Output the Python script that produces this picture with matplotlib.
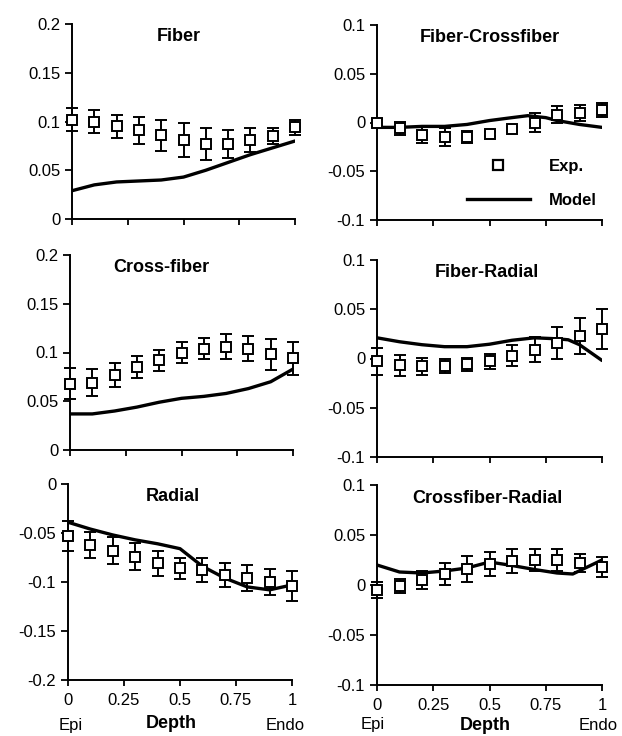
"""
Transmural strain profiles: experiment (squares, +/- SD) vs model (line),
six strain components plotted against normalised wall depth.
"""

import numpy as np
import matplotlib.pyplot as plt
from matplotlib.lines import Line2D
from matplotlib.ticker import FuncFormatter

# ── data ────────────────────────────────────────────────────────────────
depth = [0.0, 0.1, 0.2, 0.3, 0.4, 0.5, 0.6, 0.7, 0.8, 0.9, 1.0]

fiber_exp = [0.102, 0.100, 0.095, 0.091, 0.086, 0.081, 0.077, 0.077, 0.081, 0.085, 0.094]
fiber_err = [0.012, 0.012, 0.012, 0.014, 0.016, 0.017, 0.016, 0.014, 0.012, 0.008, 0.008]
fiber_mod_x = [0.0, 0.1, 0.2, 0.3, 0.4, 0.5, 0.6, 0.7, 0.8, 0.9, 1.0]
fiber_mod = [0.029, 0.035, 0.038, 0.039, 0.040, 0.043, 0.050, 0.058, 0.066, 0.073, 0.080]

fc_exp = [0.000, -0.006, -0.013, -0.015, -0.015, -0.012, -0.007, 0.000, 0.008, 0.010, 0.013]
fc_err = [0.004, 0.007, 0.008, 0.009, 0.006, 0.002, 0.002, 0.010, 0.009, 0.008, 0.007]
fc_mod_x = [0.0, 0.1, 0.2, 0.3, 0.4, 0.5, 0.6, 0.67, 0.75, 0.8, 0.9, 1.0]
fc_mod = [-0.005, -0.005, -0.004, -0.004, -0.002, 0.002, 0.005, 0.007, 0.005, 0.002, -0.002, -0.005]

cf_exp = [0.068, 0.069, 0.077, 0.085, 0.092, 0.100, 0.104, 0.106, 0.104, 0.098, 0.094]
cf_err = [0.016, 0.014, 0.012, 0.011, 0.011, 0.011, 0.011, 0.013, 0.013, 0.016, 0.017]
cf_mod_x = [0.0, 0.1, 0.2, 0.3, 0.4, 0.5, 0.6, 0.7, 0.8, 0.9, 1.0]
cf_mod = [0.037, 0.037, 0.040, 0.044, 0.049, 0.053, 0.055, 0.058, 0.063, 0.070, 0.083]

fr_exp = [-0.003, -0.007, -0.008, -0.008, -0.006, -0.003, 0.003, 0.009, 0.016, 0.023, 0.030]
fr_err = [0.014, 0.011, 0.009, 0.007, 0.007, 0.008, 0.011, 0.013, 0.016, 0.018, 0.020]
fr_mod_x = [0.0, 0.1, 0.2, 0.3, 0.4, 0.5, 0.6, 0.7, 0.8, 0.85, 0.9, 1.0]
fr_mod = [0.021, 0.017, 0.014, 0.012, 0.012, 0.0145, 0.0185, 0.021, 0.020, 0.019, 0.014, -0.002]

rad_exp = [-0.053, -0.062, -0.068, -0.074, -0.081, -0.086, -0.088, -0.093, -0.096, -0.100, -0.104]
rad_err = [0.015, 0.013, 0.014, 0.014, 0.013, 0.011, 0.012, 0.012, 0.013, 0.013, 0.015]
rad_mod_x = [0.0, 0.1, 0.2, 0.3, 0.4, 0.5, 0.55, 0.6, 0.7, 0.8, 0.9, 1.0]
rad_mod = [-0.039, -0.046, -0.052, -0.057, -0.061, -0.066, -0.075, -0.084, -0.096, -0.105, -0.108, -0.103]

cr_exp = [-0.005, -0.001, 0.005, 0.011, 0.016, 0.021, 0.024, 0.025, 0.025, 0.022, 0.018]
cr_err = [0.008, 0.007, 0.009, 0.011, 0.013, 0.012, 0.012, 0.011, 0.011, 0.009, 0.010]
cr_mod_x = [0.0, 0.1, 0.2, 0.3, 0.4, 0.5, 0.6, 0.7, 0.8, 0.87, 1.0]
cr_mod = [0.020, 0.013, 0.012, 0.014, 0.017, 0.023, 0.0195, 0.0155, 0.012, 0.011, 0.025]

titles = ["Fiber", "Fiber-Crossfiber", "Cross-fiber", "Fiber-Radial",
          "Radial", "Crossfiber-Radial"]
ylims = [(0, 0.2), (-0.1, 0.1), (0, 0.2), (-0.1, 0.1), (-0.2, 0), (-0.1, 0.1)]
yticks_all = [np.arange(0, 0.201, 0.05), np.arange(-0.1, 0.101, 0.05),
              np.arange(0, 0.201, 0.05), np.arange(-0.1, 0.101, 0.05),
              np.arange(-0.2, 0.001, 0.05), np.arange(-0.1, 0.101, 0.05)]
xtick_vals = [0, 0.25, 0.5, 0.75, 1]

panels = [
    (fiber_exp, fiber_err, fiber_mod_x, fiber_mod),
    (fc_exp, fc_err, fc_mod_x, fc_mod),
    (cf_exp, cf_err, cf_mod_x, cf_mod),
    (fr_exp, fr_err, fr_mod_x, fr_mod),
    (rad_exp, rad_err, rad_mod_x, rad_mod),
    (cr_exp, cr_err, cr_mod_x, cr_mod),
]

# ── style ───────────────────────────────────────────────────────────────
plt.rcParams.update({
    "font.family": ["Liberation Sans", "DejaVu Sans"],
    "font.size": 12,
    "axes.unicode_minus": False,
})

W, H = 622, 736
fig = plt.figure(figsize=(W / 100, H / 100), dpi=100)

# panel boxes in pixels: (x_left, x_right, y_top, y_bottom)
boxes = [
    (72, 295, 24, 219), (377, 602, 25, 220),
    (70, 293, 255, 450), (377, 602, 260, 457),
    (68, 292, 484, 680), (377, 602, 485, 685),
]
title_x = [0.48, 0.50, 0.41, 0.49, 0.47, 0.49]
# Epi / Depth / Endo label positions (axes fraction) for bottom panels
epi_x = {4: 0.01, 5: -0.02}
depth_x = {4: 0.46, 5: 0.48}
endo_x = {4: 0.97, 5: 0.985}
depth_y = {4: -0.22, 5: -0.20}
end_y = {4: -0.23, 5: -0.20}

fmt = FuncFormatter(lambda v, p: f"{v:.2f}".rstrip("0").rstrip(".") if abs(v) > 1e-9 else "0")

axes = []
for i, (exp, err, mx, my) in enumerate(panels):
    r, c = divmod(i, 2)
    x0, x1, y0, y1 = boxes[i]
    ax = fig.add_axes([x0 / W, 1 - y1 / H, (x1 - x0) / W, (y1 - y0) / H])
    axes.append(ax)

    ax.plot(mx, my, color="black", lw=2.4, solid_capstyle="round", zorder=2)
    eb = ax.errorbar(depth, exp, yerr=err, fmt="s", ms=7, mfc="white", mec="black",
                     mew=1.4, ecolor="black", elinewidth=1.4, capsize=4, capthick=1.4,
                     zorder=3)
    for art in eb.get_children():
        art.set_clip_on(False)

    ax.set_xlim(0, 1)
    ax.set_ylim(*ylims[i])
    ax.set_yticks(yticks_all[i])
    ax.yaxis.set_major_formatter(fmt)
    ax.set_xticks(xtick_vals)
    ax.xaxis.set_major_formatter(FuncFormatter(lambda v, p: f"{v:g}"))
    if r < 2:
        ax.tick_params(axis="x", labelbottom=False)

    for sp in ("top", "right"):
        ax.spines[sp].set_visible(False)
    for sp in ("left", "bottom"):
        ax.spines[sp].set_linewidth(1.4)
    ax.tick_params(axis="x", direction="out", length=4.5, width=1.3, labelsize=12, pad=5)
    ax.tick_params(axis="y", direction="out", length=5, width=1.3, labelsize=12)

    ax.text(title_x[i], 0.935, titles[i], transform=ax.transAxes, ha="center",
            va="center", fontsize=13, fontweight="bold")

    if r == 2:
        ax.text(epi_x[i], end_y[i], "Epi", transform=ax.transAxes,
                ha="center", va="center", fontsize=12)
        ax.text(depth_x[i], depth_y[i], "Depth", transform=ax.transAxes,
                ha="center", va="center", fontsize=13, fontweight="bold")
        ax.text(endo_x[i], end_y[i], "Endo", transform=ax.transAxes,
                ha="center", va="center", fontsize=12)

# legend in the fiber-crossfiber panel
handles = [
    Line2D([], [], ls="none", marker="s", ms=7, mfc="white", mec="black", mew=1.6),
    Line2D([], [], color="black", lw=2.4),
]
axes[1].legend(handles, ["Exp.", "Model"], loc="lower right",
               bbox_to_anchor=(1.03, 0.0), frameon=False,
               handlelength=3.8, handletextpad=1.15, labelspacing=1.15,
               borderaxespad=0.3, prop={"weight": "bold", "size": 12})

plt.savefig("out.png", dpi=100)
plt.close()
